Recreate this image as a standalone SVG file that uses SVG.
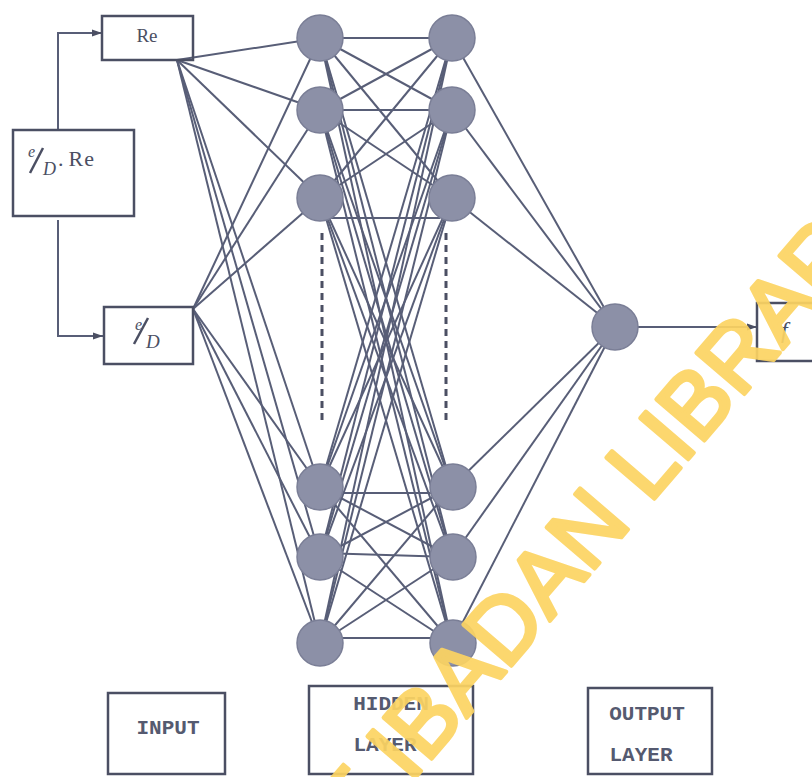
<svg xmlns="http://www.w3.org/2000/svg" width="812" height="777" viewBox="0 0 812 777">
<defs>
<style>
.box{fill:none;stroke:#4b4f63;stroke-width:2.5}
.ln{stroke:#585e77;stroke-width:2;fill:none}
.node{fill:#8c90a7;stroke:#7a7e96;stroke-width:1.5}
.dash{stroke:#4b4f63;stroke-width:3;stroke-dasharray:7,5;fill:none}
.serif{font-family:"Liberation Serif","DejaVu Serif",serif;fill:#4b4f63}
.mono{font-family:"Liberation Mono","DejaVu Sans Mono",monospace;font-weight:bold;font-size:21px;fill:#555a70}
.wm{font-family:"Liberation Sans",Arial,sans-serif;font-size:92px;fill:#FCD462;stroke:#FCD462;stroke-width:4;stroke-linejoin:round;opacity:0.92}
</style>
<marker id="arr" viewBox="0 0 10 10" refX="10" refY="5" markerWidth="10" markerHeight="10" markerUnits="userSpaceOnUse" orient="auto">
<path d="M0,1.5 L10,5 L0,8.5 Z" fill="#4b4f63"/>
</marker>
</defs>
<rect width="812" height="777" fill="#ffffff"/>

<g id="connectors">
<polyline class="ln" points="58,130 58,33 102,33" marker-end="url(#arr)"/>
<polyline class="ln" points="58,220 58,336 103,336" marker-end="url(#arr)"/>
<line class="ln" x1="177" y1="60" x2="320" y2="38"/>
<line class="ln" x1="177" y1="60" x2="320" y2="110"/>
<line class="ln" x1="177" y1="60" x2="320" y2="198"/>
<line class="ln" x1="177" y1="60" x2="320" y2="487"/>
<line class="ln" x1="177" y1="60" x2="320" y2="557"/>
<line class="ln" x1="177" y1="60" x2="320" y2="643"/>
<line class="ln" x1="193" y1="309" x2="320" y2="38"/>
<line class="ln" x1="193" y1="309" x2="320" y2="110"/>
<line class="ln" x1="193" y1="309" x2="320" y2="198"/>
<line class="ln" x1="193" y1="309" x2="320" y2="487"/>
<line class="ln" x1="193" y1="309" x2="320" y2="557"/>
<line class="ln" x1="193" y1="309" x2="320" y2="643"/>
<line class="ln" x1="320" y1="38" x2="452" y2="38"/>
<line class="ln" x1="320" y1="38" x2="452" y2="110"/>
<line class="ln" x1="320" y1="38" x2="452" y2="198"/>
<line class="ln" x1="320" y1="38" x2="452" y2="487"/>
<line class="ln" x1="320" y1="38" x2="452" y2="557"/>
<line class="ln" x1="320" y1="38" x2="452" y2="643"/>
<line class="ln" x1="320" y1="110" x2="452" y2="38"/>
<line class="ln" x1="320" y1="110" x2="452" y2="110"/>
<line class="ln" x1="320" y1="110" x2="452" y2="198"/>
<line class="ln" x1="320" y1="110" x2="452" y2="487"/>
<line class="ln" x1="320" y1="110" x2="452" y2="557"/>
<line class="ln" x1="320" y1="110" x2="452" y2="643"/>
<line class="ln" x1="320" y1="198" x2="452" y2="38"/>
<line class="ln" x1="330" y1="218" x2="440" y2="218"/>
<line class="ln" x1="320" y1="198" x2="452" y2="110"/>
<line class="ln" x1="320" y1="198" x2="452" y2="487"/>
<line class="ln" x1="320" y1="198" x2="452" y2="557"/>
<line class="ln" x1="320" y1="198" x2="452" y2="643"/>
<line class="ln" x1="320" y1="487" x2="452" y2="38"/>
<line class="ln" x1="320" y1="487" x2="452" y2="110"/>
<line class="ln" x1="320" y1="487" x2="452" y2="198"/>
<line class="ln" x1="320" y1="493" x2="452" y2="493"/>
<line class="ln" x1="320" y1="487" x2="452" y2="557"/>
<line class="ln" x1="320" y1="487" x2="452" y2="643"/>
<line class="ln" x1="320" y1="557" x2="452" y2="38"/>
<line class="ln" x1="320" y1="557" x2="452" y2="110"/>
<line class="ln" x1="320" y1="557" x2="452" y2="198"/>
<line class="ln" x1="320" y1="557" x2="452" y2="487"/>
<line class="ln" x1="320" y1="553" x2="452" y2="557"/>
<line class="ln" x1="320" y1="557" x2="452" y2="643"/>
<line class="ln" x1="320" y1="643" x2="452" y2="38"/>
<line class="ln" x1="320" y1="643" x2="452" y2="110"/>
<line class="ln" x1="320" y1="643" x2="452" y2="198"/>
<line class="ln" x1="320" y1="643" x2="452" y2="487"/>
<line class="ln" x1="320" y1="643" x2="452" y2="557"/>
<line class="ln" x1="320" y1="638" x2="452" y2="638"/>
<line class="ln" x1="452" y1="38" x2="615" y2="327"/>
<line class="ln" x1="452" y1="110" x2="615" y2="327"/>
<line class="ln" x1="452" y1="198" x2="615" y2="327"/>
<line class="ln" x1="452" y1="487" x2="615" y2="327"/>
<line class="ln" x1="452" y1="557" x2="615" y2="327"/>
<line class="ln" x1="452" y1="643" x2="615" y2="327"/>
<line class="ln" x1="638" y1="327" x2="757" y2="327" marker-end="url(#arr)"/>
<line class="dash" x1="322" y1="233" x2="322" y2="420"/>
<line class="dash" x1="446" y1="233" x2="446" y2="420"/>
</g>

<g id="input-eDRe">
<rect class="box" x="13" y="130" width="121" height="86"/>
<text class="serif" font-size="16" font-style="italic" x="28" y="157">e</text>
<line x1="30" y1="173" x2="43" y2="148" stroke="#4b4f63" stroke-width="2.5"/>
<text class="serif" font-size="18" font-style="italic" x="43" y="175">D</text>
<text class="serif" font-size="22" x="58" y="166" letter-spacing="1">.<tspan dx="4">Re</tspan></text>
</g>

<g id="input-Re">
<rect class="box" x="102" y="16" width="91" height="44"/>
<text class="serif" font-size="19" x="147" y="42" text-anchor="middle">Re</text>
</g>

<g id="input-eD">
<rect class="box" x="104" y="307" width="89" height="57"/>
<text class="serif" font-size="16" font-style="italic" x="135" y="330">e</text>
<line x1="134" y1="344" x2="148" y2="318" stroke="#4b4f63" stroke-width="2.5"/>
<text class="serif" font-size="19" font-style="italic" x="146" y="348">D</text>
</g>

<g id="hidden1">
<circle class="node" cx="320" cy="38" r="23"/>
<circle class="node" cx="320" cy="110" r="23"/>
<circle class="node" cx="320" cy="198" r="23"/>
<circle class="node" cx="320" cy="487" r="23"/>
<circle class="node" cx="320" cy="557" r="23"/>
<circle class="node" cx="320" cy="643" r="23"/>
</g>

<g id="hidden2">
<circle class="node" cx="452" cy="38" r="23"/>
<circle class="node" cx="452" cy="110" r="23"/>
<circle class="node" cx="452" cy="198" r="23"/>
<circle class="node" cx="453" cy="487" r="23"/>
<circle class="node" cx="453" cy="557" r="23"/>
<circle class="node" cx="453" cy="643" r="23"/>
</g>

<g id="output-node">
<circle class="node" cx="615" cy="327" r="23"/>
</g>

<g id="output-box">
<rect class="box" x="757" y="303" width="70" height="58"/>
<text class="serif" font-size="24" font-style="italic" x="781" y="338">f</text>
</g>

<g id="label-input">
<rect class="box" x="108" y="693" width="117" height="81"/>
<text class="mono" x="168" y="734" text-anchor="middle">INPUT</text>
</g>

<g id="label-hidden">
<rect class="box" x="309" y="686" width="164" height="88"/>
<text class="mono" x="391" y="710" text-anchor="middle">HIDDEN</text>
<text class="mono" x="385" y="751" text-anchor="middle">LAYER</text>
</g>

<g id="label-output">
<rect class="box" x="588" y="688" width="124" height="86"/>
<text class="mono" x="647" y="720" text-anchor="middle">OUTPUT</text>
<text class="mono" x="641" y="761" text-anchor="middle">LAYER</text>
</g>

<g id="watermark" transform="translate(410,784) rotate(-49.4)">
<text class="wm" x="0" y="0">IBADAN LIBRARY</text>
<text class="wm" x="-25" y="0" text-anchor="end">UNIVERSITY OF</text>
</g>
</svg>
